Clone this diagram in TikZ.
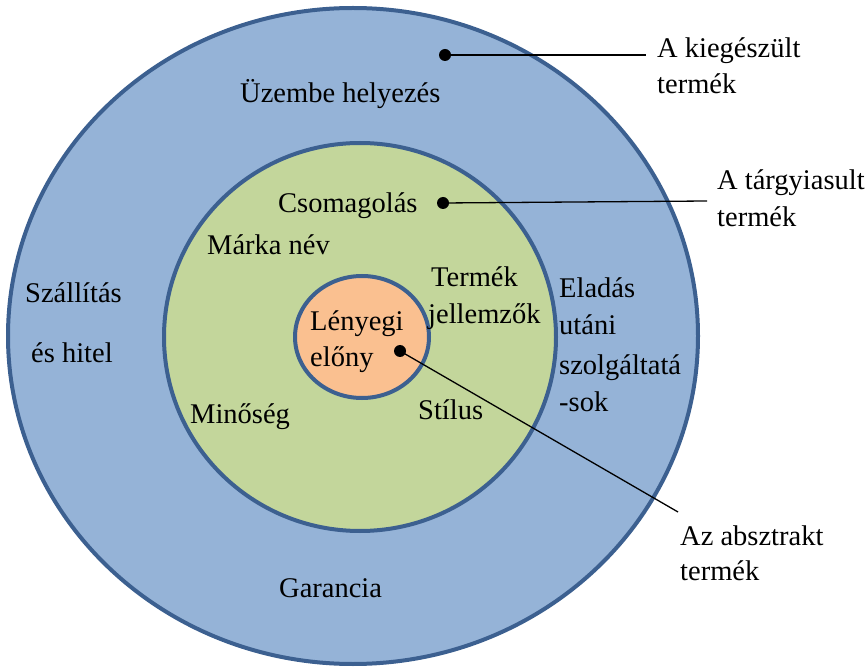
\documentclass[tikz,border=0pt]{standalone}
\usepackage{fontspec}
\setmainfont{Liberation Serif}
\newfontfamily\timesfam{Liberation Serif}
\definecolor{ringline}{HTML}{3C6090}
\definecolor{outerfill}{HTML}{95B3D7}
\definecolor{midfill}{HTML}{C3D69B}
\definecolor{innerfill}{HTML}{FAC090}
\begin{document}
\begin{tikzpicture}[x=1pt,y=-1pt,
  ringstyle/.style={draw=ringline, line width=4pt},
  lbl/.style={inner sep=0pt, anchor=base west, font=\timesfam\fontsize{28.5}{34}\selectfont},
  dotmark/.style={circle, fill=black, inner sep=0pt, minimum size=12pt},
  leader/.style={draw=black, line width=1.3pt}]
\useasboundingbox (0,0) rectangle (868,668);
% rings
\filldraw[ringstyle, fill=outerfill] (353,336) ellipse [x radius=345, y radius=328];
\filldraw[ringstyle, fill=midfill] (360,337) ellipse [x radius=196, y radius=194];
\filldraw[ringstyle, fill=innerfill] (362,337) ellipse [x radius=67, y radius=61];
% texts inside
\node[lbl] (uzembe) at (240,103) {Üzembe helyezés};
\node[lbl] (csomag) at (278,213) {Csomagolás};
\node[lbl] (marka) at (207,255) {Márka név};
\node[lbl] (termek1) at (431,287) {Termék};
\node[lbl] (jellem) at (428,324) {jellemzők};
\node[lbl] (lenyegi) at (310,331) {Lényegi};
\node[lbl] (elony) at (310,367) {előny};
\node[lbl] (szall) at (25,303) {Szállítás};
\node[lbl] (hitel) at (31,363) {és hitel};
\node[lbl] (eladas) at (559,298) {Eladás};
\node[lbl] (utani) at (559,335) {utáni};
\node[lbl] (szolg) at (559,375) {szolgáltatá};
\node[lbl] (sok) at (559,412) {-sok};
\node[lbl] (minoseg) at (190,424) {Minőség};
\node[lbl] (stilus) at (418,420) {Stílus};
\node[lbl] (garancia) at (279,597) {Garancia};
% outside labels
\node[lbl] (kieg1) at (657,58) {A kiegészült};
\node[lbl] (kieg2) at (657,94) {termék};
\node[lbl] (targy1) at (717,190) {A tárgyiasult};
\node[lbl] (targy2) at (717,227) {termék};
\node[lbl] (abszt1) at (680,545) {Az absztrakt};
\node[lbl] (abszt2) at (680,580) {termék};
% dots and leaders
\node[dotmark] (d1) at (445,55) {};
\node[dotmark] (d2) at (443,203) {};
\node[dotmark] (d3) at (400,351) {};
\coordinate (e1) at (646,55);
\coordinate (e2) at (707,201);
\coordinate (e3) at (678,512);
\draw[leader] (d1.center) -- (e1);
\draw[leader] (d2.center) -- (e2);
\draw[leader] (d3.center) -- (e3);
\end{tikzpicture}
\end{document}
